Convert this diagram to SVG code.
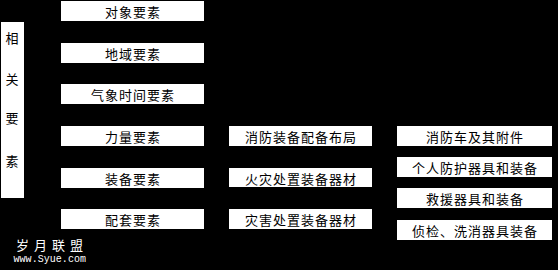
<svg xmlns="http://www.w3.org/2000/svg" width="558" height="270" viewBox="0 0 558 270">
<style>
.box{fill:#ffffff;stroke:none}
.t{font-family:"Noto Sans CJK SC","Liberation Sans",sans-serif;font-size:13px;fill:#000000;text-anchor:middle;letter-spacing:1px}
.w{font-family:"Noto Sans CJK SC","Liberation Sans",sans-serif;font-size:13px;fill:#ffffff;letter-spacing:5px}
.u{font-family:"Liberation Mono",monospace;font-size:10px;fill:#ffffff}
</style>
<rect x="0" y="0" width="558" height="270" fill="#000000"/>
<g id="node-related">
<rect class="box" x="1" y="22" width="23" height="176"/>
<text class="t" x="12.5" y="42.5">相</text>
<text class="t" x="12.5" y="83.5">关</text>
<text class="t" x="12.5" y="123">要</text>
<text class="t" x="12.5" y="166">素</text>
</g>
<g id="node-object"><rect class="box" x="61" y="1" width="143" height="20"/><text class="t" x="133" y="17">对象要素</text></g>
<g id="node-region"><rect class="box" x="61" y="43" width="143" height="20"/><text class="t" x="133" y="59">地域要素</text></g>
<g id="node-weather"><rect class="box" x="61" y="84" width="143" height="20"/><text class="t" x="133" y="100">气象时间要素</text></g>
<g id="node-force"><rect class="box" x="61" y="126" width="143" height="20"/><text class="t" x="133" y="142">力量要素</text></g>
<g id="node-equip"><rect class="box" x="61" y="168" width="143" height="20"/><text class="t" x="133" y="184">装备要素</text></g>
<g id="node-support"><rect class="box" x="61" y="209" width="143" height="20"/><text class="t" x="133" y="225">配套要素</text></g>
<g id="node-layout"><rect class="box" x="229" y="126" width="143" height="20"/><text class="t" x="301" y="142">消防装备配备布局</text></g>
<g id="node-fire"><rect class="box" x="229" y="168" width="143" height="19"/><text class="t" x="301" y="183.5">火灾处置装备器材</text></g>
<g id="node-disaster"><rect class="box" x="229" y="209" width="143" height="20"/><text class="t" x="301" y="225">灾害处置装备器材</text></g>
<g id="node-truck"><rect class="box" x="397" y="126" width="155" height="20"/><text class="t" x="475" y="142">消防车及其附件</text></g>
<g id="node-personal"><rect class="box" x="397" y="157" width="155" height="20"/><text class="t" x="475" y="173">个人防护器具和装备</text></g>
<g id="node-rescue"><rect class="box" x="397" y="188" width="155" height="20"/><text class="t" x="475" y="204">救援器具和装备</text></g>
<g id="node-detect"><rect class="box" x="397" y="220" width="155" height="20"/><text class="t" x="475" y="236">侦检、洗消器具装备</text></g>
<g id="connectors"></g>
<g id="watermark">
<text class="w" x="16" y="249.5">岁月联盟</text>
<text class="u" x="13.5" y="262" textLength="72.5">www.Syue.com</text>
</g>
</svg>
